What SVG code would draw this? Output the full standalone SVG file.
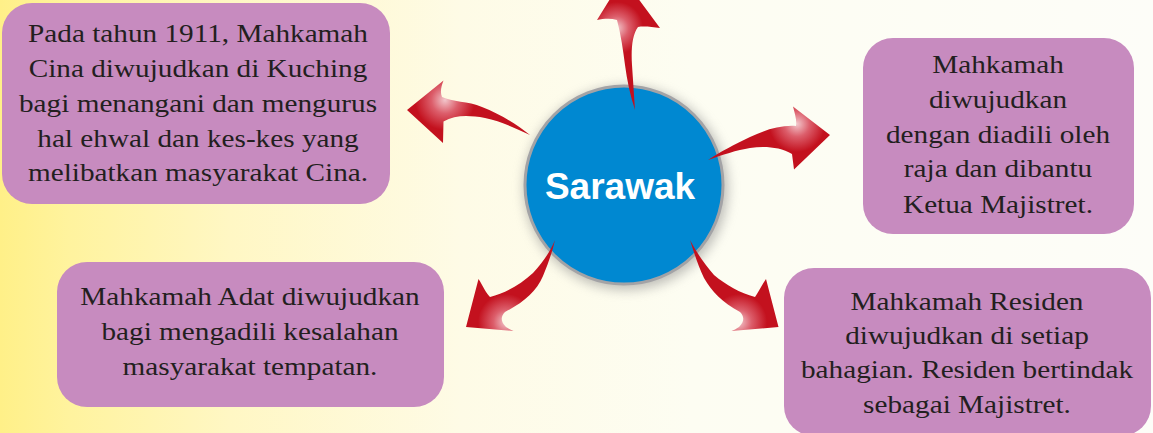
<svg xmlns="http://www.w3.org/2000/svg" width="1153" height="433" viewBox="0 0 1153 433">
<defs>
<linearGradient id="bg" x1="0" y1="0" x2="1153" y2="0" gradientUnits="userSpaceOnUse">
<stop offset="0" stop-color="#FFF088"/>
<stop offset="0.06" stop-color="#FFF39E"/>
<stop offset="0.2" stop-color="#FFF7C4"/>
<stop offset="0.4" stop-color="#FEFBE6"/>
<stop offset="0.6" stop-color="#FDFDF2"/>
<stop offset="1" stop-color="#FDFDF8"/>
</linearGradient>
<filter id="sh" x="-30%" y="-30%" width="160%" height="160%">
<feGaussianBlur stdDeviation="6"/>
</filter>
<radialGradient id="gL" cx="445" cy="100" r="30" gradientUnits="userSpaceOnUse">
<stop offset="0" stop-color="#F2C6CB"/><stop offset="0.45" stop-color="#DC5E6B"/><stop offset="1" stop-color="#C3111E"/>
</radialGradient>
<radialGradient id="gT" cx="617" cy="28" r="26" gradientUnits="userSpaceOnUse">
<stop offset="0" stop-color="#F2C6CB"/><stop offset="0.45" stop-color="#DC5E6B"/><stop offset="1" stop-color="#C3111E"/>
</radialGradient>
<radialGradient id="gR" cx="797" cy="124" r="28" gradientUnits="userSpaceOnUse">
<stop offset="0" stop-color="#F2C6CB"/><stop offset="0.45" stop-color="#DC5E6B"/><stop offset="1" stop-color="#C3111E"/>
</radialGradient>
<radialGradient id="gBL" cx="506" cy="322" r="28" gradientUnits="userSpaceOnUse">
<stop offset="0" stop-color="#F2C6CB"/><stop offset="0.45" stop-color="#DC5E6B"/><stop offset="1" stop-color="#C3111E"/>
</radialGradient>
<radialGradient id="gBR" cx="739" cy="322" r="28" gradientUnits="userSpaceOnUse">
<stop offset="0" stop-color="#F2C6CB"/><stop offset="0.45" stop-color="#DC5E6B"/><stop offset="1" stop-color="#C3111E"/>
</radialGradient>
</defs>
<style>
.box{fill:#C78BBF}
.t{font-family:"Liberation Serif","Times New Roman",serif;font-size:26px;fill:#231F20;text-anchor:middle}
.hub{font-family:"Liberation Sans",Arial,sans-serif;font-size:37px;font-weight:bold;fill:#FFFFFF;text-anchor:middle}
</style>
<rect x="0" y="0" width="1153" height="433" fill="url(#bg)"/>

<g id="node-cina">
<rect class="box" x="2" y="3" width="388" height="201" rx="30"/>
<g transform="translate(198 0) scale(1.125 1)">
<text class="t" x="0" y="42">Pada tahun 1911, Mahkamah</text>
<text class="t" x="0" y="77">Cina diwujudkan di Kuching</text>
<text class="t" x="0" y="112">bagi menangani dan mengurus</text>
<text class="t" x="0" y="147">hal ehwal dan kes-kes yang</text>
<text class="t" x="0" y="181">melibatkan masyarakat Cina.</text>
</g>
</g>

<g id="node-adat">
<rect class="box" x="57" y="262" width="387" height="145" rx="30"/>
<g transform="translate(250 0) scale(1.125 1)">
<text class="t" x="0" y="305">Mahkamah Adat diwujudkan</text>
<text class="t" x="0" y="340">bagi mengadili kesalahan</text>
<text class="t" x="0" y="375">masyarakat tempatan.</text>
</g>
</g>

<g id="node-raja">
<rect class="box" x="863" y="38" width="271" height="196" rx="30"/>
<g transform="translate(998 0) scale(1.125 1)">
<text class="t" x="0" y="73">Mahkamah</text>
<text class="t" x="0" y="108">diwujudkan</text>
<text class="t" x="0" y="143">dengan diadili oleh</text>
<text class="t" x="0" y="177">raja dan dibantu</text>
<text class="t" x="0" y="213">Ketua Majistret.</text>
</g>
</g>

<g id="node-residen">
<rect class="box" x="784" y="268" width="367" height="168" rx="30"/>
<g transform="translate(967 0) scale(1.125 1)">
<text class="t" x="0" y="310">Mahkamah Residen</text>
<text class="t" x="0" y="344">diwujudkan di setiap</text>
<text class="t" x="0" y="378">bahagian. Residen bertindak</text>
<text class="t" x="0" y="413">sebagai Majistret.</text>
</g>
</g>

<g id="node-sarawak">
<circle cx="626" cy="188" r="102" fill="#8A8A8A" opacity="0.55" filter="url(#sh)"/>
<circle cx="624" cy="185" r="99" fill="#0088D1" stroke="#A3A3A6" stroke-width="3"/>
<text class="hub" x="620" y="199">Sarawak</text>
</g>

<g id="connectors">
<path fill="url(#gL)" d="M407,110 L443.5,80.5 C441,87 440,92 442,97 C452,102 468,101 482,107 C500,114 516,124 530,135 C515,128 500,121 485,118 C468,115 455,115 443.5,121.5 L443,143 Z"/>
<path fill="url(#gT)" d="M623,-22 L660,28 C652,27 644,26 638,27 C632,35 631,50 632,65 C633,80 634,95 635,110 C630,95 627,80 625,65 C623,50 621,35 617,20 C610,18 603,19 597,20 Z"/>
<path fill="url(#gR)" d="M830,135 L793,106.5 C795,114 797,121 796,126 C780,125 765,130 750,137 C735,144 720,152 708,160 C722,155 737,150 750,148 C765,146 780,147 792,154 L794,169.5 Z"/>
<path fill="url(#gBL)" d="M466,327 L478.5,279 C483,286 486,293 490,297 C505,293 520,285 533,273 C543,262 550,252 555,240 C552,253 548,264 543,276 C536,292 524,302 505,312 C501,316 500,321 506,327 C509,329 511,330 513.5,331 Z"/>
<path fill="url(#gBR)" d="M778.5,327 L766,279 C761,286 758,293 755,297 C740,293 726,285 714,275 C704,263 696,252 690,240 C694,253 698,265 704,278 C712,292 722,302 740,312 C744,316 745,321 739,327 C736,329 734,330 731.5,331 Z"/>
</g>
</svg>
